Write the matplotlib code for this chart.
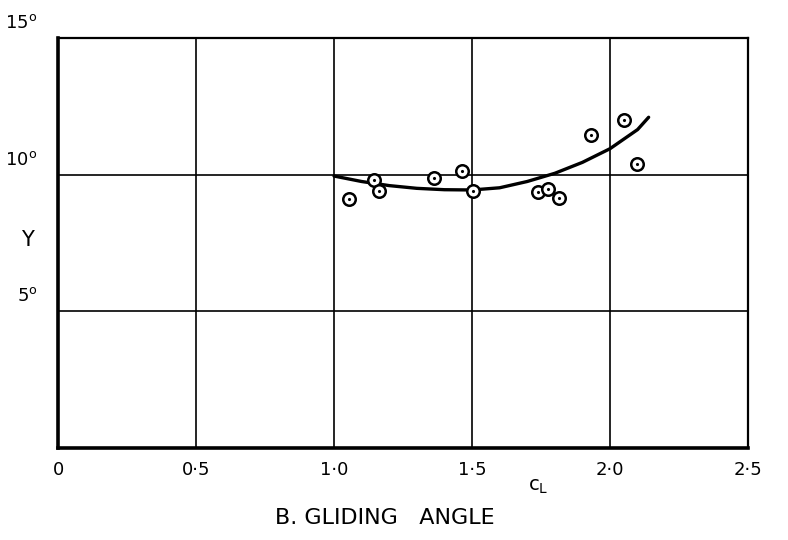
import numpy as np
import matplotlib
matplotlib.use("Agg")
import matplotlib.pyplot as plt

# measured points (C_L, gliding angle in degrees)
cl_pts = [1.054, 1.145, 1.163, 1.362, 1.464, 1.504, 1.739, 1.775, 1.815, 1.931, 2.051, 2.098]
ang_pts = [9.11, 9.80, 9.40, 9.88, 10.13, 9.40, 9.37, 9.48, 9.15, 11.45, 12.00, 10.39]

# faired curve
cl_curve = [1.0, 1.1, 1.2, 1.3, 1.4, 1.5, 1.6, 1.7, 1.8, 1.9, 2.0, 2.1, 2.14]
ang_curve = [9.95, 9.75, 9.60, 9.50, 9.45, 9.44, 9.52, 9.75, 10.05, 10.45, 10.95, 11.65, 12.1]

xticks = [0, 0.5, 1.0, 1.5, 2.0, 2.5]
xlabels = ["0", "0\u00b75", "1\u00b70", "1\u00b75", "2\u00b70", "2\u00b75"]
yticks = [5, 10, 15]
ylabels = ["5$^{\\rm o}$", "10$^{\\rm o}$", "15$^{\\rm o}$"]

fig = plt.figure(figsize=(7.88, 5.4), dpi=100)
ax = fig.add_axes([58/788, 92/540, 690/788, 410/540])
ax.set_xlim(0, 2.5)
ax.set_ylim(0, 15)

for x in xticks[1:-1]:
    ax.axvline(x, color="black", lw=1.2)
for y in yticks[:-1]:
    ax.axhline(y, color="black", lw=1.2)

ax.plot(cl_curve, ang_curve, color="black", lw=2.4, solid_capstyle="round")
ax.plot(cl_pts, ang_pts, linestyle="none", marker="o", ms=9,
        mfc="white", mec="black", mew=1.8)
ax.plot(cl_pts, ang_pts, linestyle="none", marker=".", ms=2.5, color="black")

for s in ["left", "bottom"]:
    ax.spines[s].set_linewidth(2.6)
for s in ["top", "right"]:
    ax.spines[s].set_linewidth(1.6)

ax.set_xticks([])
ax.set_yticks([])
for x, lab in zip(xticks, xlabels):
    ax.text(x, -0.8, lab, ha="center", va="center", fontsize=13)
for y, lab in zip(yticks, ylabels):
    ax.text(-0.075, y + 0.55, lab, ha="right", va="center", fontsize=13)
ax.text(-0.11, 7.6, "Y", ha="center", va="center", fontsize=15)
ax.text(1.74, -1.4, "c$_{\\rm L}$", ha="center", va="center", fontsize=14)

fig.text(385/788, 1 - 518/540, "B. GLIDING   ANGLE", ha="center", va="center", fontsize=16)

fig.savefig("out.png", dpi=100)
